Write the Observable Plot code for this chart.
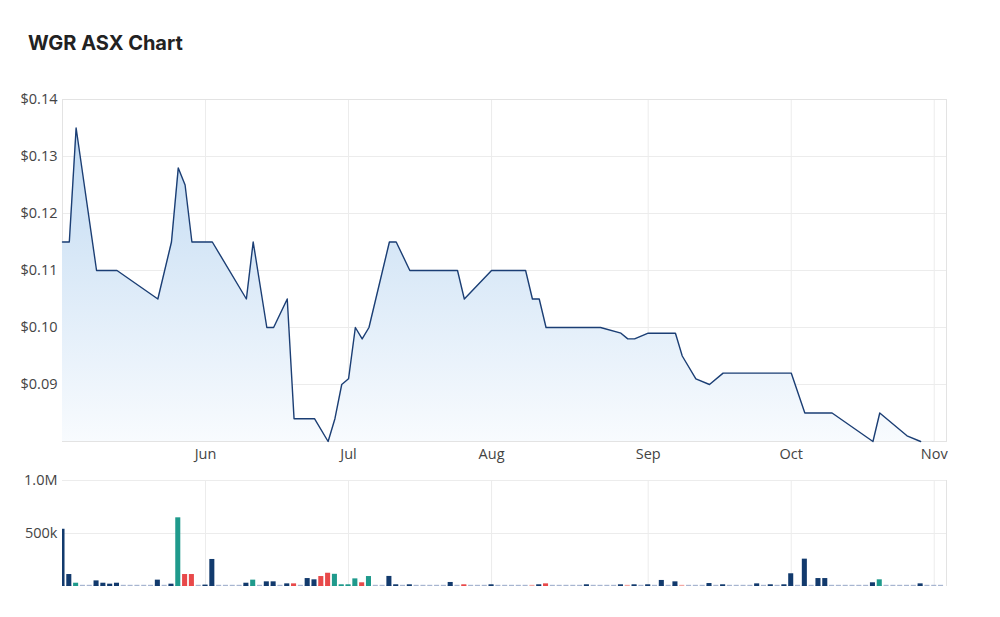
<!DOCTYPE html>
<html><head><meta charset="utf-8">
<script src="https://cdn.jsdelivr.net/npm/d3@7"></script>
<script src="https://cdn.jsdelivr.net/npm/@observablehq/plot@0.6"></script>
<style>
body{margin:0;background:#fff;}
#wrap{position:relative;width:1000px;height:617px;overflow:hidden;}
#title{position:absolute;left:28px;top:33px;font-family:Inter,"Open Sans",sans-serif;font-size:20px;line-height:20px;font-weight:700;color:#222;}
#price{position:absolute;left:0;top:60px;}
#vol{position:absolute;left:0;top:470px;}
</style></head><body>
<div id="wrap"><div id="title">WGR ASX Chart</div><div id="price"></div><div id="vol"></div></div>
<script>
// Trading-day index (0 = first trading day shown) and close price at line vertices
const priceDays = [0,1,2,5,8,14,16,17,18,19,22,27,28,30,31,33,34,37,39,40,41,42,43,44,45,48,49,51,58,59,63,68,69,70,71,79,82,83,84,86,90,91,93,95,97,107,109,113,119,120,124,126];
const prices = [0.115,0.115,0.135,0.110,0.110,0.105,0.115,0.128,0.125,0.115,0.115,0.105,0.115,0.100,0.100,0.105,0.084,0.084,0.080,0.084,0.090,0.091,0.100,0.098,0.100,0.115,0.115,0.110,0.110,0.105,0.110,0.110,0.105,0.105,0.100,0.100,0.099,0.098,0.098,0.099,0.099,0.095,0.091,0.090,0.092,0.092,0.085,0.085,0.080,0.085,0.081,0.080];
// Daily volume per trading day (index 0..129)
const volumes = [
540000,113000,31000,0,0,53000,31000,22000,31000,0,
0,0,0,0,60000,0,22000,648000,113000,113000,
0,13000,255000,0,0,0,0,31000,60000,0,
44000,44000,0,25000,25000,0,75000,63000,94000,125000,
115000,16000,16000,72000,35000,94000,0,0,95000,16000,
0,16000,0,0,0,0,0,38000,0,16000,
0,0,0,16000,0,0,0,0,0,0,
16000,25000,0,0,0,0,0,16000,0,0,
0,0,16000,0,16000,0,16000,0,57000,0,
44000,0,0,0,0,28000,0,16000,0,0,
0,0,25000,0,16000,0,16000,120000,0,258000,
0,75000,75000,0,0,0,0,0,0,35000,
63000,0,0,0,0,0,25000,0,0,0];
// n = unchanged, t = up, r = down
const volDir = "nntnnnnnnn"+"nnnnnnntrr"+"nnnnnnnntn"+"nnnnrnnnrr"+"ttttrtnnnn"+"nnnnnnnnnr"+"nnnnnnnnnr"+"nrnnnnnnnn"+"nnnrnnnnnn"+"nrnnnnnnnn"+"nnnnnnnnnn"+"nnnnnnnnnn"+"tnnnnnnnnn";
const monthTickDays = [21,42,63,86,107,128];
const monthLabels = ["Jun","Jul","Aug","Sep","Oct","Nov"];
const priceTicks = [0.09,0.10,0.11,0.12,0.13,0.14];
const volTicks = [500000,1000000];
const volTickLabels = ["500k","1.0M"];

const priceData = priceDays.map((d,i)=>({d, p: prices[i]}));
const volData = volumes.map((v,i)=>({i, v, c: volDir[i]}));
const colFull = {n:"#123a6d", t:"#1f9a8c", r:"#e8494a"};
const colFaint = {n:"#a7b5d0", t:"#9fd1cb", r:"#f3a7a3"};
const xDomain = [0, 129.8];
const font = "'Open Sans', sans-serif";

const gradDefs = () => {
  const ns = "http://www.w3.org/2000/svg";
  const defs = document.createElementNS(ns, "defs");
  defs.innerHTML = '<linearGradient id="pg" x1="0" y1="0" x2="0" y2="1"><stop offset="0" stop-color="#c1daf2"/><stop offset="1" stop-color="#f8fbfe"/></linearGradient>';
  return defs;
};

const pricePlot = Plot.plot({
  width: 1000, height: 410,
  marginTop: 39, marginBottom: 29, marginLeft: 62, marginRight: 54,
  style: {fontFamily: font, fontSize: "14.5px", color: "#444", background: "transparent"},
  x: {domain: xDomain, axis: null},
  y: {domain: [0.08, 0.14], axis: null},
  marks: [
    gradDefs,
    Plot.gridY(priceTicks, {stroke: "#ececec", strokeOpacity: 1}),
    Plot.gridX(monthTickDays, {stroke: "#ececec", strokeOpacity: 1}),
    Plot.frame({stroke: "#e3e3e3"}),
    Plot.areaY(priceData, {x: "d", y1: 0.08, y2: "p", fill: "url(#pg)"}),
    Plot.line(priceData, {x: "d", y: "p", stroke: "#1b3e74", strokeWidth: 1.4}),
    Plot.axisY(priceTicks, {label: null, tickSize: 0, tickPadding: 5, tickFormat: d => "$" + d.toFixed(2), fill: "#444", fontSize: 14.5}),
    Plot.axisX(monthTickDays, {label: null, tickSize: 0, tickPadding: 7, tickFormat: d => monthLabels[monthTickDays.indexOf(d)], fill: "#444", fontSize: 14.5})
  ]
});
document.getElementById("price").appendChild(pricePlot);

const volPlot = Plot.plot({
  width: 1000, height: 125,
  marginTop: 10, marginBottom: 9, marginLeft: 62, marginRight: 54,
  style: {fontFamily: font, fontSize: "14.5px", color: "#444", background: "transparent"},
  x: {domain: xDomain, axis: null},
  y: {domain: [0, 1000000], axis: null},
  marks: [
    Plot.gridY(volTicks, {stroke: "#ececec", strokeOpacity: 1}),
    Plot.gridX(monthTickDays, {stroke: "#ececec", strokeOpacity: 1}),
    Plot.ruleX([xDomain[1]], {stroke: "#e3e3e3"}),
    Plot.rect(volData, {x1: d => d.i - 0.37, x2: d => d.i + 0.37, y1: 0, y2: 0, insetTop: -1.2, fill: d => colFaint[d.c], clip: true}),
    Plot.rectY(volData, {x1: d => d.i - 0.37, x2: d => d.i + 0.37, y1: 0, y2: "v", fill: d => colFull[d.c], clip: true}),
    Plot.axisY(volTicks, {label: null, tickSize: 0, tickPadding: 5, tickFormat: d => volTickLabels[volTicks.indexOf(d)], fill: "#444", fontSize: 14.5})
  ]
});
document.getElementById("vol").appendChild(volPlot);
</script>
</body></html>
